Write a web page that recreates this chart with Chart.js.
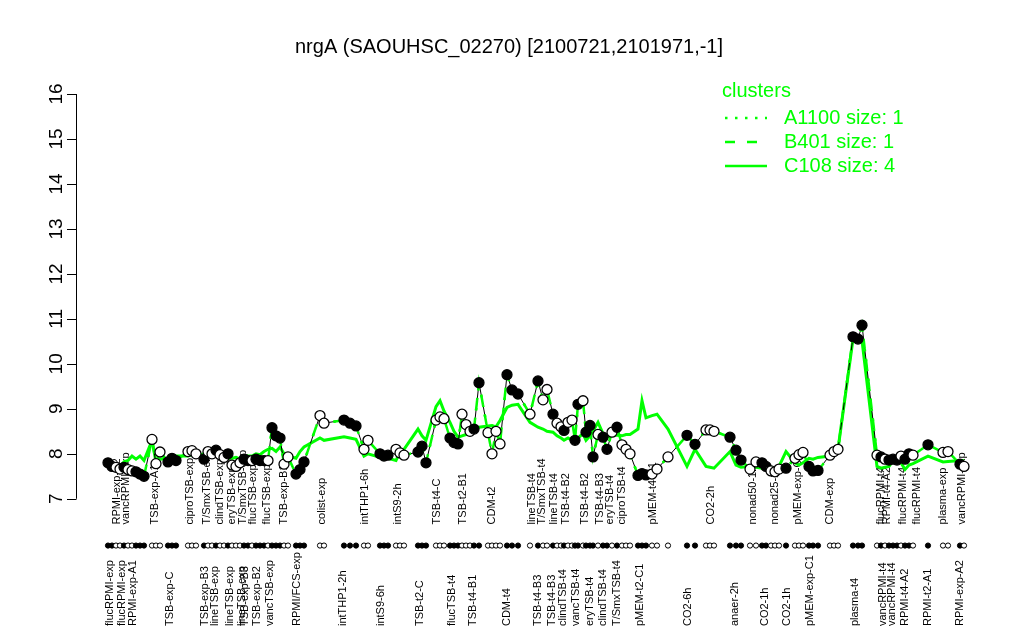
<!DOCTYPE html>
<html>
<head>
<meta charset="utf-8">
<script src="https://cdn.jsdelivr.net/npm/chart.js@4.4.1/dist/chart.umd.min.js"></script>
<style>
  html, body { margin: 0; padding: 0; background: #fff; }
</style>
</head>
<body>
<canvas id="chart" width="1024" height="640"></canvas>
<script>
const chartTitle = 'nrgA (SAOUHSC_02270) [2100721,2101971,-1]';

// sample order positions along x (one step per sample, gaps between groups)
const samplePos = [
  27, 28, 29, 30, 31, 32, 33, 34, 35, 36,
  38, 39, 40, 42, 43, 44, 47, 48, 49, 51,
  52, 53, 54, 55, 56, 57, 58, 59, 60, 61,
  62, 63, 64, 65, 66, 67, 68, 69, 70, 71,
  72, 74, 75, 76, 80, 81, 86, 87.5, 89, 91,
  92, 95, 96, 97, 99, 100, 101, 104.5, 105.5, 106.5,
  109, 110, 111, 112.5, 113.5, 114.5, 115.5, 116.5, 117.5, 118.5,
  119.75, 122, 123, 124, 125, 126.75, 128, 129.5, 132.5, 134.5,
  135.75, 136.75, 138.25, 139.25, 140.25, 141, 142, 143, 143.75, 144.5,
  145.75, 146.5, 147.5, 148.25, 149.5, 150.75, 151.75, 153, 154.25, 155.5,
  156.5, 157.5, 159.5, 160.5, 161.5, 163, 164.25, 167, 171.75, 173.75,
  176.5, 177.5, 178.5, 182.5, 184, 185.25, 187.5, 189, 190.5, 191.5,
  192.75, 193.75, 194.75, 196.5, 198.75, 199.75, 200.75, 202.25, 203.25, 204.5,
  207.5, 208.5, 209.5, 213.25, 214.5, 215.5, 219.25, 220.25, 221.25, 222.25,
  223.25, 224.25, 225.25, 226.25, 227.25, 228.25, 232, 235.75, 237, 240,
  241
];

// expression of this gene per sample
const sampleValues = [
  7.80, 7.72, 7.70, 7.66, 7.70, 7.65, 7.62, 7.60, 7.55, 7.50,
  8.32, 7.78, 8.04, 7.82, 7.90, 7.85, 8.05, 8.07, 8.00, 7.88,
  8.05, 8.00, 8.08, 7.98, 7.92, 8.00, 7.75, 7.72, 7.80, 7.88,
  7.85, 7.85, 7.88, 7.85, 7.85, 7.85, 8.58, 8.40, 8.35, 7.77,
  7.93, 7.55, 7.65, 7.82, 8.85, 8.68, 8.75, 8.68, 8.62, 8.10,
  8.30, 8.00, 7.95, 7.97, 8.10, 8.02, 7.97, 8.04, 8.17, 7.80,
  8.75, 8.82, 8.78, 8.35, 8.25, 8.22, 8.88, 8.65, 8.50, 8.55,
  9.58, 8.47, 8.00, 8.50, 8.22, 9.76, 9.42, 9.33, 8.88, 9.62,
  9.20, 9.43, 8.88, 8.68, 8.60, 8.52, 8.70, 8.75, 8.30, 9.10,
  9.18, 8.48, 8.63, 7.93, 8.43, 8.37, 8.10, 8.48, 8.59, 8.20,
  8.10, 8.00, 7.52, 7.56, 7.53, 7.55, 7.66, 7.93, 8.41, 8.21,
  8.53, 8.53, 8.50, 8.37, 8.08, 7.86, 7.66, 7.82, 7.80, 7.72,
  7.62, 7.60, 7.66, 7.68, 7.90, 7.98, 8.03, 7.72, 7.62, 7.63,
  7.97, 8.05, 8.10, 10.60, 10.55, 10.86, 7.97, 7.93, 7.88, 7.86,
  7.88, 7.86, 7.95, 7.88, 8.00, 7.97, 8.20, 8.03, 8.05, 7.77,
  7.72
];

// 1 = filled marker, 0 = open marker
const sampleFilled = [
  1, 1, 0, 0, 1, 0, 0, 1, 1, 1,
  0, 0, 0, 1, 1, 1, 0, 0, 0, 1,
  0, 0, 1, 0, 0, 1, 0, 0, 0, 1,
  1, 0, 1, 1, 1, 0, 1, 1, 1, 0,
  0, 1, 1, 1, 0, 0, 1, 1, 1, 0,
  0, 1, 1, 1, 0, 0, 0, 1, 1, 1,
  0, 0, 0, 1, 1, 1, 0, 0, 0, 1,
  1, 0, 0, 0, 0, 1, 1, 1, 0, 1,
  0, 0, 1, 0, 0, 1, 0, 0, 1, 1,
  0, 1, 1, 1, 0, 1, 1, 0, 1, 0,
  0, 0, 1, 1, 1, 0, 0, 0, 1, 1,
  0, 0, 0, 1, 1, 1, 0, 0, 1, 1,
  0, 0, 0, 1, 0, 0, 0, 1, 1, 1,
  0, 0, 0, 1, 1, 1, 0, 1, 0, 1,
  1, 1, 0, 1, 1, 0, 1, 0, 0, 1,
  0
];

// cluster C108 profile
const clusterC108 = [
  7.70, 7.68, 7.75, 7.72, 7.82, 7.85, 7.95, 7.88, 7.95, 7.85,
  8.30, 7.82, 7.88, 7.90, 7.93, 7.95, 7.95, 7.98, 7.95, 8.00,
  8.05, 8.00, 8.08, 8.05, 7.98, 7.95, 7.90, 7.92, 7.88, 7.90,
  7.95, 7.95, 8.00, 7.98, 8.05, 8.10, 8.12, 8.05, 8.15, 8.00,
  7.95, 7.90, 8.05, 8.15, 8.35, 8.30, 8.38, 8.35, 8.32, 7.95,
  8.00, 7.92, 7.88, 7.90, 7.85, 8.05, 8.10, 8.55, 8.40, 8.30,
  9.05, 9.18, 8.95, 8.70, 8.50, 8.37, 8.40, 8.43, 8.45, 8.52,
  8.59, 8.62, 8.63, 8.60, 8.74, 9.03, 9.08, 9.10, 8.70, 8.59,
  8.55, 8.50, 8.48, 8.40, 8.35, 8.30, 8.35, 8.30, 8.25, 8.35,
  8.45, 8.30, 8.40, 8.50, 8.70, 8.45, 8.37, 8.40, 8.42, 8.40,
  8.43, 8.43, 8.55, 9.18, 8.80, 8.85, 8.88, 8.55, 7.72, 8.10,
  7.72, 7.70, 7.68, 8.05, 7.75, 7.70, 7.72, 7.70, 7.68, 7.75,
  7.70, 7.68, 7.72, 8.05, 7.80, 7.75, 7.80, 7.90, 7.88, 7.92,
  7.95, 8.00, 8.10, 10.55, 10.50, 10.52, 7.72, 7.68, 7.70, 7.72,
  7.85, 7.88, 7.80, 7.65, 7.75, 7.78, 7.95, 7.82, 7.83, 7.85,
  7.85
];

// condition labels above the marker row
const topLabels = [
  'RPMI-exp-A2', 'vancRPMI-exp', 'TSB-exp-A1', 'ciproTSB-exp', 'T/SmxTSB-exp',
  'clindTSB-exp', 'eryTSB-exp', 'T/SmxTSB-exp', 'flucTSB-exp', 'flucTSB-exp',
  'TSB-exp-B1', 'colist-exp', 'intTHP1-6h', 'intS9-2h', 'TSB-t4-C',
  'TSB-t2-B1', 'CDM-t2', 'lineTSB-t4', 'T/SmxTSB-t4', 'lineTSB-t4',
  'TSB-t4-B2', 'TSB-t4-B2', 'TSB-t4-B3', 'eryTSB-t4', 'ciproTSB-t4',
  'pMEM-t4-C1', 'CO2-2h', 'nonad50-1h', 'nonad25-1h', 'pMEM-exp-C2',
  'CDM-exp', 'flucRPMI-t4', 'RPMI-t4-A2', 'flucRPMI-t4', 'flucRPMI-t4',
  'plasma-exp', 'vancRPMI-exp'
];
const topLabelPos = [
  29.25, 31.5, 38.75, 47.5, 51.75,
  55, 58, 60.75, 63.25, 66.75,
  71, 80.5, 91.25, 99.5, 109.25,
  115.75, 123, 133, 135.5, 138.5,
  141.5, 146.25, 150, 152.5, 155.5,
  163.25, 177.75, 188.25, 193.75, 199.5,
  207.5, 220.25, 221.75, 225.75, 229.25,
  235.75, 240.5
];

// condition labels below the marker row
const bottomLabels = [
  'flucRPMI-exp', 'flucRPMI-exp', 'RPMI-exp-A1', 'TSB-exp-C', 'TSB-exp-B3',
  'lineTSB-exp', 'lineTSB-exp', 'lineTSB-exp', 'TSB-exp-B3', 'TSB-exp-B2',
  'vancTSB-exp', 'RPMI/FCS-exp', 'intTHP1-2h', 'intS9-6h', 'TSB-t2-C',
  'flucTSB-t4', 'TSB-t4-B1', 'CDM-t4', 'TSB-t4-B3', 'TSB-t4-B3',
  'clindTSB-t4', 'vancTSB-t4', 'eryTSB-t4', 'clindTSB-t4', 'T/SmxTSB-t4',
  'pMEM-t2-C1', 'CO2-6h', 'anaer-2h', 'CO2-1h', 'CO2-1h',
  'pMEM-exp-C1', 'plasma-t4', 'vancRPMI-t4', 'vancRPMI-t4', 'RPMI-t4-A2',
  'RPMI-t2-A1', 'RPMI-exp-A2'
];
const bottomLabelPos = [
  27.5, 30.5, 33.25, 42.5, 51.25,
  53.75, 57.5, 60.5, 61.25, 64.25,
  67.5, 74.25, 85.75, 95.25, 105,
  113, 118.25, 126.75, 134.5, 138,
  140.75, 144, 147.5, 150.75, 154.25,
  160, 172, 183.75, 191.25, 196.75,
  202.5, 213.75, 220.75, 223, 226.25,
  232, 240
];

const yTicks = [7, 8, 9, 10, 11, 12, 13, 14, 15, 16];
const clusterNames = ['A1100', 'B401', 'C108'];
const clusterSizes = [1, 1, 4];

const GREEN = '#00ff00';
const FONT = '"Liberation Sans", Arial, Helvetica, sans-serif';
const MARK_ROW = 5.96;
const TOP_LABEL_Y = 6.43;
const BOTTOM_LABEL_Y = 4.17;

const genePoints = samplePos.map((x, i) => ({ x: x, y: sampleValues[i] }));
const c108Points = samplePos.map((x, i) => ({ x: x, y: clusterC108[i] }));
const markRow = samplePos.map(x => ({ x: x, y: MARK_ROW }));
const fillColors = sampleFilled.map(f => (f ? '#000000' : '#ffffff'));

const rDecor = {
  id: 'rDecor',
  beforeDatasetsDraw(chart) {
    const ctx = chart.ctx;
    const xs = chart.scales.x;
    const ys = chart.scales.y;
    ctx.save();
    ctx.fillStyle = '#000';
    ctx.font = '11px ' + FONT;
    ctx.textAlign = 'left';
    ctx.textBaseline = 'middle';
    const drawSet = (labels, pos, yVal) => {
      const py = ys.getPixelForValue(yVal);
      labels.forEach((t, i) => {
        ctx.save();
        ctx.translate(xs.getPixelForValue(pos[i]), py);
        ctx.rotate(-Math.PI / 2);
        ctx.fillText(t, 0, 0);
        ctx.restore();
      });
    };
    drawSet(topLabels, topLabelPos, TOP_LABEL_Y);
    drawSet(bottomLabels, bottomLabelPos, BOTTOM_LABEL_Y);
    ctx.restore();
  },
  afterDraw(chart) {
    const ctx = chart.ctx;
    const ys = chart.scales.y;
    const left = chart.chartArea.left;
    ctx.save();

    // title
    ctx.fillStyle = '#000';
    ctx.font = '20px ' + FONT;
    ctx.textAlign = 'center';
    ctx.textBaseline = 'middle';
    ctx.fillText(chartTitle, 509, 47);

    // y axis, R style: only spans the tick range
    ctx.strokeStyle = '#000';
    ctx.lineWidth = 1;
    const y0 = ys.getPixelForValue(yTicks[0]);
    const y1 = ys.getPixelForValue(yTicks[yTicks.length - 1]);
    ctx.beginPath();
    ctx.moveTo(left + 0.5, y0);
    ctx.lineTo(left + 0.5, y1);
    yTicks.forEach(t => {
      const py = Math.round(ys.getPixelForValue(t)) + 0.5;
      ctx.moveTo(left + 0.5, py);
      ctx.lineTo(left - 9, py);
    });
    ctx.stroke();
    ctx.font = '19px ' + FONT;
    yTicks.forEach(t => {
      ctx.save();
      ctx.translate(left - 19, ys.getPixelForValue(t));
      ctx.rotate(-Math.PI / 2);
      ctx.fillText(String(t), 0, 0);
      ctx.restore();
    });

    // cluster legend
    const lx = 722;
    ctx.font = '20px ' + FONT;
    ctx.fillStyle = GREEN;
    ctx.strokeStyle = GREEN;
    ctx.textAlign = 'left';
    ctx.fillText('clusters', lx, 91);
    const dashes = [[2.5, 7.5], [10, 12], []];
    clusterNames.forEach((name, i) => {
      const ry = 118 + i * 24;
      ctx.lineWidth = 2.5;
      ctx.setLineDash(dashes[i]);
      ctx.beginPath();
      ctx.moveTo(lx + 3, ry);
      ctx.lineTo(lx + 45, ry);
      ctx.stroke();
      ctx.setLineDash([]);
      ctx.fillText(name + ' size: ' + clusterSizes[i], lx + 62, ry);
    });
    ctx.restore();
  }
};

new Chart(document.getElementById('chart'), {
  type: 'scatter',
  data: {
    datasets: [
      {
        data: genePoints,
        pointRadius: 5,
        pointBackgroundColor: fillColors,
        pointBorderColor: '#000',
        pointBorderWidth: 1.3,
        order: 0
      },
      {
        data: markRow,
        pointRadius: 2.6,
        pointBackgroundColor: fillColors,
        pointBorderColor: '#000',
        pointBorderWidth: 1,
        order: 0
      },
      {
        type: 'line',
        data: genePoints,
        borderColor: GREEN,
        borderWidth: 2.5,
        borderDash: [2.5, 7.5],
        pointRadius: 0,
        order: 1
      },
      {
        type: 'line',
        data: genePoints,
        borderColor: GREEN,
        borderWidth: 2.5,
        borderDash: [10, 10],
        pointRadius: 0,
        order: 2
      },
      {
        type: 'line',
        data: genePoints,
        borderColor: '#000',
        borderWidth: 1,
        pointRadius: 0,
        order: 3
      },
      {
        type: 'line',
        data: c108Points,
        borderColor: GREEN,
        borderWidth: 3,
        pointRadius: 0,
        order: 4
      }
    ]
  },
  options: {
    responsive: false,
    animation: false,
    devicePixelRatio: 1,
    layout: { padding: { left: 76, right: 34, top: 94, bottom: 2 } },
    scales: {
      x: { type: 'linear', min: 19, max: 247.5, display: false },
      y: { type: 'linear', min: 4, max: 16, display: false }
    },
    plugins: {
      legend: { display: false },
      title: { display: false },
      tooltip: { enabled: false }
    }
  },
  plugins: [rDecor]
});
</script>
</body>
</html>
